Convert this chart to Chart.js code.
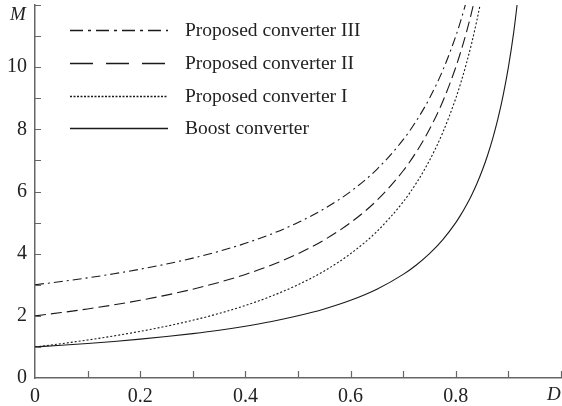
<!DOCTYPE html>
<html>
<head>
<meta charset="utf-8">
<script src="https://cdn.jsdelivr.net/npm/chart.js@4.4.1/dist/chart.umd.min.js"></script>
<style>
  html, body { margin: 0; padding: 0; background: #fff; }
  #wrap { width: 562px; height: 406px; }
</style>
</head>
<body>
<div id="wrap"><canvas id="c"></canvas></div>
<script>
// Duty cycle D and voltage gain M for each converter
const dutyBoost = [0, 0.05, 0.1, 0.15, 0.2, 0.25, 0.3, 0.35, 0.4, 0.45, 0.5, 0.55, 0.6, 0.65, 0.7, 0.725, 0.75, 0.775, 0.8, 0.81, 0.82, 0.83, 0.84, 0.85, 0.86, 0.87, 0.88, 0.89, 0.9, 0.91, 0.92];
const gainBoost = [1, 1.053, 1.111, 1.176, 1.25, 1.333, 1.429, 1.538, 1.667, 1.818, 2, 2.222, 2.5, 2.857, 3.333, 3.636, 4, 4.444, 5, 5.263, 5.556, 5.882, 6.25, 6.667, 7.143, 7.692, 8.333, 9.091, 10, 11.11, 12.5];

const dutyI = [0, 0.05, 0.1, 0.15, 0.2, 0.25, 0.3, 0.35, 0.4, 0.45, 0.5, 0.55, 0.6, 0.65, 0.7, 0.725, 0.75, 0.775, 0.8, 0.81, 0.82, 0.83, 0.84, 0.85];
const gainI = [1, 1.105, 1.222, 1.353, 1.5, 1.667, 1.857, 2.077, 2.333, 2.636, 3, 3.444, 4, 4.714, 5.667, 6.273, 7, 7.889, 9, 9.526, 10.11, 10.76, 11.5, 12.33];

const dutyII = [0, 0.05, 0.1, 0.15, 0.2, 0.25, 0.3, 0.35, 0.4, 0.45, 0.5, 0.55, 0.6, 0.65, 0.7, 0.725, 0.75, 0.775, 0.8, 0.81, 0.82, 0.83, 0.84];
const gainII = [2, 2.105, 2.222, 2.353, 2.5, 2.667, 2.857, 3.077, 3.333, 3.636, 4, 4.444, 5, 5.714, 6.667, 7.273, 8, 8.889, 10, 10.53, 11.11, 11.76, 12.5];

const dutyIII = [0, 0.05, 0.1, 0.15, 0.2, 0.25, 0.3, 0.35, 0.4, 0.45, 0.5, 0.55, 0.6, 0.65, 0.7, 0.725, 0.75, 0.775, 0.8, 0.81, 0.82];
const gainIII = [3, 3.105, 3.222, 3.353, 3.5, 3.667, 3.857, 4.077, 4.333, 4.636, 5, 5.444, 6, 6.714, 7.667, 8.273, 9, 9.889, 11, 11.53, 12.11];

const seriesNames = ['Proposed converter III', 'Proposed converter II', 'Proposed converter I', 'Boost converter'];

const xTickLabels = ['0', '0.2', '0.4', '0.6', '0.8'];
const yTickLabels = ['0', '2', '4', '6', '8', '10'];

const INK = '#1a1a1a';
const AXIS = '#666';
const SERIF = '"Liberation Serif", "DejaVu Serif", serif';

const pts = (xs, ys) => xs.map((x, i) => ({ x, y: ys[i] }));

// dash pattern per series, shared by the curves and the legend keys
const styles = [
  { dash: [9, 4, 2, 4], legendDash: [13, 5, 3, 5] },
  { dash: [11, 5], legendDash: [23, 13] },
  { dash: [2, 2], legendDash: [2, 1.5] },
  { dash: [], legendDash: [] }
];

const datasets = [
  { label: seriesNames[0], data: pts(dutyIII, gainIII), borderDash: styles[0].dash },
  { label: seriesNames[1], data: pts(dutyII, gainII), borderDash: styles[1].dash },
  { label: seriesNames[2], data: pts(dutyI, gainI), borderDash: styles[2].dash },
  { label: seriesNames[3], data: pts(dutyBoost, gainBoost), borderDash: styles[3].dash }
].map(d => Object.assign(d, {
  borderColor: INK, borderWidth: 1.1, pointRadius: 0, tension: 0.35,
  cubicInterpolationMode: 'monotone', fill: false
}));

// inward tick marks, axis letters and the legend block
const decor = {
  id: 'decor',
  afterDraw(chart) {
    const { ctx, chartArea: a, scales } = chart;
    const xs = scales.x, ys = scales.y;
    ctx.save();
    ctx.strokeStyle = AXIS;
    ctx.lineWidth = 1.2;
    ctx.beginPath();
    for (let v = 1; v <= 12; v++) {
      const py = Math.round(ys.getPixelForValue(v)) + 0.5;
      ctx.moveTo(a.left, py); ctx.lineTo(a.left + 6, py);
    }
    for (let k = 1; k <= 10; k++) {
      const px = Math.round(xs.getPixelForValue(k / 10)) + 0.5;
      ctx.moveTo(px, a.bottom); ctx.lineTo(px, a.bottom - 7);
    }
    ctx.stroke();

    ctx.fillStyle = '#222';
    ctx.font = 'italic 19px ' + SERIF;
    ctx.textBaseline = 'middle';
    ctx.textAlign = 'left';
    ctx.fillText('M', 10, 15);
    ctx.fillText('D', 547, 395);

    // legend
    const rowsY = [30, 63, 96, 128];
    ctx.font = '19.5px ' + SERIF;
    seriesNames.forEach((name, i) => {
      const y = rowsY[i] + 0.5;
      ctx.strokeStyle = INK;
      ctx.lineWidth = 1.3;
      ctx.setLineDash(styles[i].legendDash);
      ctx.beginPath();
      ctx.moveTo(70, y); ctx.lineTo(168, y);
      ctx.stroke();
      ctx.setLineDash([]);
      ctx.fillStyle = '#222';
      ctx.fillText(name, 185, rowsY[i] + 1);
    });
    ctx.restore();
  }
};

new Chart(document.getElementById('c'), {
  type: 'line',
  data: { datasets },
  options: {
    responsive: true,
    maintainAspectRatio: false,
    animation: false,
    layout: { padding: { top: 5, right: 1, left: 0, bottom: 0 } },
    plugins: { legend: { display: false }, tooltip: { enabled: false } },
    scales: {
      x: {
        type: 'linear', min: 0, max: 1,
        grid: { display: false, drawTicks: false },
        border: { display: true, color: AXIS, width: 1.5 },
        ticks: {
          stepSize: 0.1, color: '#222', padding: 7,
          font: { family: SERIF, size: 20 },
          maxRotation: 0, autoSkip: false,
          callback: v => {
            const k = Math.round(v * 10);
            return (k % 2 === 0 && k < 10) ? xTickLabels[k / 2] : '';
          }
        },
        afterFit: s => { s.height = 28; s.paddingLeft = 0; s.paddingRight = 0; }
      },
      y: {
        type: 'linear', min: 0, max: 12,
        grid: { display: false, drawTicks: false },
        border: { display: true, color: AXIS, width: 1.5 },
        ticks: {
          stepSize: 1, color: '#222', padding: 8,
          font: { family: SERIF, size: 20 },
          autoSkip: false,
          callback: v => (v % 2 === 0 && v <= 10) ? yTickLabels[v / 2] : ''
        },
        afterFit: s => { s.width = 35; s.paddingTop = 0; s.paddingBottom = 0; }
      }
    }
  },
  plugins: [decor]
});
</script>
</body>
</html>
